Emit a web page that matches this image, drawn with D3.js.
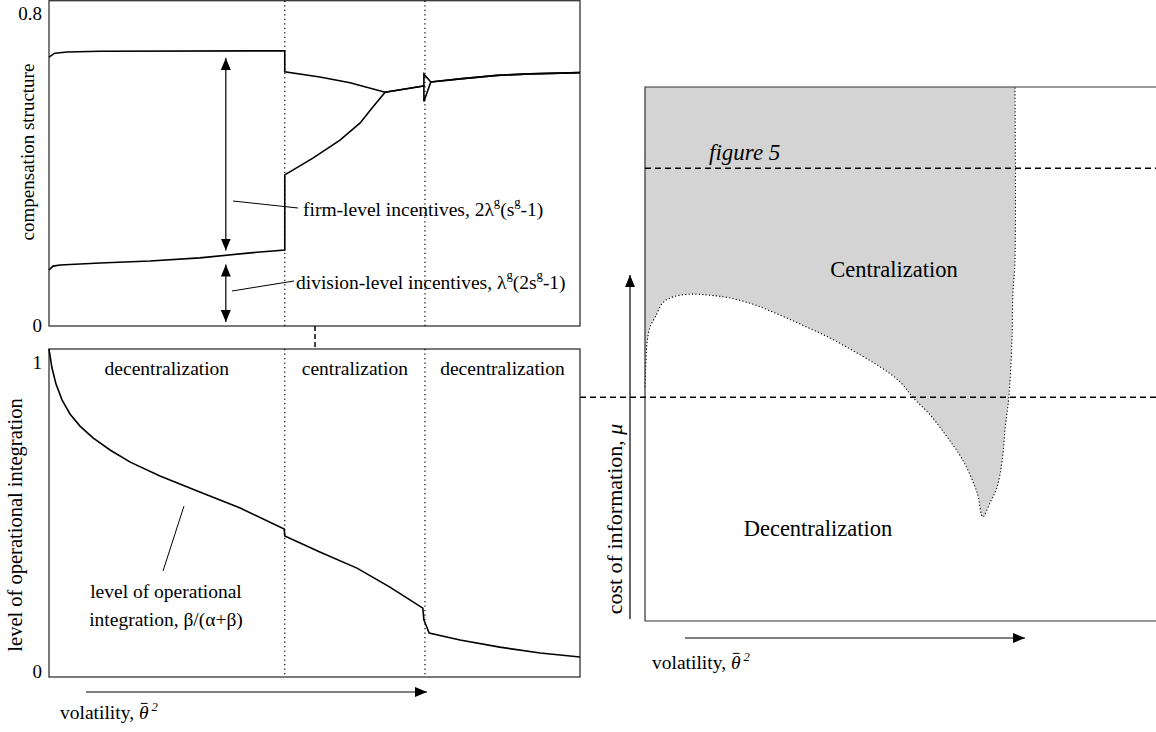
<!DOCTYPE html>
<html><head><meta charset="utf-8">
<script src="https://cdn.jsdelivr.net/npm/d3@7"></script>
<style>
body{margin:0;background:#fff;}
svg{display:block;}
svg text{font-family:'Liberation Serif','Times New Roman',Times,serif;}
</style></head><body>
<svg id="c" width="1156" height="732"></svg>
<script>
// ---------- data ----------
const regimeBreaks = [44.4, 70.8];
const regimeLabels = ["decentralization", "centralization", "decentralization"];
const compTicks = [0, 0.8];
const integTicks = [0, 1];

// upper curve of compensation panel (total incentives)
const totalV = [0, 1.1, 3.4, 9.6, 44.4, 44.4, 51.0, 56.7, 63.3, 70.6, 70.6, 71.9, 77.4, 84.4, 90.6, 100];
const totalY = [0.687, 0.697, 0.700, 0.702, 0.703, 0.649, 0.636, 0.621, 0.597, 0.613, 0.643, 0.623, 0.631, 0.640, 0.644, 0.647];
// lower curve (division-level incentives)
const divV = [0, 0.75, 2.1, 9.6, 19.0, 28.4, 37.9, 44.4, 44.4, 49.7, 54.8, 58.6, 60.8, 63.3, 70.6, 70.6, 71.9, 77.4, 84.4, 90.6, 100];
const divY = [0.141, 0.151, 0.154, 0.159, 0.164, 0.172, 0.185, 0.192, 0.385, 0.428, 0.474, 0.518, 0.556, 0.597, 0.613, 0.573, 0.623, 0.631, 0.640, 0.644, 0.647];

// level of operational integration
const integV = [0, 0.56, 1.32, 2.45, 3.95, 5.84, 8.29, 11.5, 15.3, 20.9, 28.4, 36.0, 44.3, 44.4, 51.0, 58.0, 64.2, 70.4, 70.6, 71.6, 77.4, 84.9, 92.5, 100];
const integY = [1.0, 0.942, 0.893, 0.845, 0.802, 0.765, 0.729, 0.692, 0.655, 0.613, 0.564, 0.515, 0.451, 0.430, 0.381, 0.332, 0.274, 0.210, 0.174, 0.134, 0.113, 0.091, 0.073, 0.061];

// right panel: boundary between regimes (volatility, cost of information)
const boundV = [0, 0.2, 0.4, 1.0, 2.0, 3.5, 5.5, 8.8, 12.7, 16.6, 21.5, 26.4, 31.3, 36.2, 41.1, 46.0, 49.9, 52.4, 55.8, 59.1, 62.2, 65.0, 66.1, 67.5, 68.9, 69.9, 70.5, 71.2, 71.8, 72.0, 72.4, 72.4];
const boundMu = [43.8, 48.9, 52.1, 55.1, 56.9, 59.6, 60.7, 61.2, 61.0, 60.5, 59.2, 57.3, 55.2, 53.0, 50.4, 47.6, 44.8, 41.9, 38.6, 34.5, 30.1, 24.0, 19.5, 22.1, 25.1, 30.1, 36.3, 41.9, 52.1, 61.4, 67.6, 100];
const muLevels = [84.8, 41.9];   // dashed reference levels ("figure 5" and lower one)

// annotation anchor (volatility at which incentive arrows drawn)
const arrowV = 33.3;

// ---------- scales ----------
const svg = d3.select("#c");
const x = d3.scaleLinear().domain([0, 100]).range([49, 580]);
const yTop = d3.scaleLinear().domain([0, 0.8]).range([325, 13]);
const yBot = d3.scaleLinear().domain([0, 1]).range([677, 349]);
const xr = d3.scaleLinear().domain([0, 100]).range([645, 1156]);
const yr = d3.scaleLinear().domain([0, 100]).range([621, 87]);

const defs = svg.append("defs");
defs.append("marker").attr("id", "ah").attr("viewBox", "0 0 12 10")
  .attr("refX", 12).attr("refY", 5).attr("markerWidth", 12).attr("markerHeight", 10)
  .attr("markerUnits", "userSpaceOnUse").attr("orient", "auto-start-reverse")
  .append("path").attr("d", "M0,0 L12,5 L0,10 Z").attr("fill", "#000");

const zip = (a, b) => a.map((v, i) => [v, b[i]]);

// ---------- right panel ----------
const R = svg.append("g");
const bpts = zip(boundV, boundMu);
const areaPts = [[0, 100]].concat(bpts);
R.append("path")
  .attr("d", d3.line().x(d => xr(d[0])).y(d => yr(d[1])).curve(d3.curveCatmullRom.alpha(0.5))(areaPts) + "Z")
  .attr("fill", "#d4d4d4").attr("stroke", "none");
R.append("path")
  .attr("d", d3.line().x(d => xr(d[0])).y(d => yr(d[1])).curve(d3.curveCatmullRom.alpha(0.5))(bpts))
  .attr("fill", "none").attr("stroke", "#000").attr("stroke-width", 1.1).attr("stroke-dasharray", "1.2,2.2");
R.append("path").attr("d", `M${xr(100)},${yr(100)} H${xr(0)} V${yr(0)} H${xr(100)}`)
  .attr("fill", "none").attr("stroke", "#333").attr("stroke-width", 1.2);
R.append("line").attr("x1", xr(0)).attr("x2", xr(100)).attr("y1", yr(muLevels[0])).attr("y2", yr(muLevels[0]))
  .attr("stroke", "#000").attr("stroke-width", 1.5).attr("stroke-dasharray", "6,4");
R.append("line").attr("x1", x(100)).attr("x2", xr(100)).attr("y1", yr(muLevels[1])).attr("y2", yr(muLevels[1]))
  .attr("stroke", "#000").attr("stroke-width", 1.5).attr("stroke-dasharray", "6,4");
R.append("text").attr("x", 709).attr("y", yr(muLevels[0]) - 16).attr("dominant-baseline", "central")
  .attr("font-style", "italic").attr("font-size", 23).text("figure 5");
R.append("text").attr("x", 894).attr("y", 269).attr("text-anchor", "middle").attr("dominant-baseline", "central")
  .attr("font-size", 22.5).text("Centralization");
R.append("text").attr("x", 818).attr("y", 528).attr("text-anchor", "middle").attr("dominant-baseline", "central")
  .attr("font-size", 22.5).text("Decentralization");
R.append("line").attr("x1", 630).attr("x2", 630).attr("y1", 619).attr("y2", 275)
  .attr("stroke", "#000").attr("stroke-width", 1.2).attr("marker-end", "url(#ah)");
R.append("line").attr("x1", 685).attr("x2", 1025).attr("y1", 638).attr("y2", 638)
  .attr("stroke", "#000").attr("stroke-width", 1.2).attr("marker-end", "url(#ah)");
const ylabR = R.append("text").attr("transform", "translate(614,519) rotate(-90)")
  .attr("text-anchor", "middle").attr("dominant-baseline", "central").attr("font-size", 22);
ylabR.append("tspan").text("cost of information, ");
ylabR.append("tspan").attr("font-style", "italic").text("μ");

function volLabel(g, px, py, fs) {
  const pre = "volatility, ";
  const t = g.append("text").attr("x", px).attr("y", py).attr("font-size", fs);
  t.append("tspan").text(pre);
  t.append("tspan").attr("font-style", "italic").text("θ");
  t.append("tspan").attr("font-style", "italic").attr("font-size", fs * 0.65).attr("dx", 3).attr("dy", -8).text("2");
  const e = t.node().getExtentOfChar(pre.length);
  const base = py;
  g.append("line").attr("x1", e.x + e.width * 0.2).attr("x2", e.x + e.width * 0.8 + 1)
    .attr("y1", base - fs * 0.8).attr("y2", base - fs * 0.8)
    .attr("stroke", "#000").attr("stroke-width", 1);
}
volLabel(R, 652, 669, 19.5);

// ---------- left panels ----------
const T = svg.append("g");
T.append("rect").attr("x", x(0)).attr("y", 0.7).attr("width", x(100) - x(0)).attr("height", 325.3)
  .attr("fill", "none").attr("stroke", "#333").attr("stroke-width", 1.3);
const B = svg.append("g");
B.append("rect").attr("x", x(0)).attr("y", yBot(1)).attr("width", x(100) - x(0)).attr("height", yBot(0) - yBot(1))
  .attr("fill", "none").attr("stroke", "#333").attr("stroke-width", 1.3);

regimeBreaks.forEach(b => {
  [[0.8, 326], [yBot(1), yBot(0)]].forEach(([a, c]) => {
    svg.append("line").attr("x1", x(b)).attr("x2", x(b)).attr("y1", a).attr("y2", c)
      .attr("stroke", "#000").attr("stroke-width", 1.2).attr("stroke-dasharray", "1.3,3.2");
  });
});
svg.append("line").attr("x1", 315).attr("x2", 315).attr("y1", 326).attr("y2", yBot(1))
  .attr("stroke", "#000").attr("stroke-width", 1.5).attr("stroke-dasharray", "5,3");

const lineT = d3.line().x(d => x(d[0])).y(d => yTop(d[1]));
T.append("path").attr("d", lineT(zip(totalV, totalY))).attr("fill", "none").attr("stroke", "#000").attr("stroke-width", 1.6);
T.append("path").attr("d", lineT(zip(divV, divY))).attr("fill", "none").attr("stroke", "#000").attr("stroke-width", 1.6);

const axT = T.append("g").attr("transform", `translate(${x(0)},0)`)
  .call(d3.axisLeft(yTop).tickValues(compTicks).tickSize(0).tickPadding(7).tickFormat(d3.format("")));
axT.select(".domain").remove();
axT.attr("font-family", null);
axT.selectAll("text").attr("font-size", 19).attr("fill", "#000");

const axB = B.append("g").attr("transform", `translate(${x(0)},0)`)
  .call(d3.axisLeft(yBot).tickValues(integTicks).tickSize(0).tickPadding(7).tickFormat(d3.format("")));
axB.select(".domain").remove();
axB.attr("font-family", null);
axB.selectAll("text").attr("font-size", 19).attr("fill", "#000")
  .attr("dy", d => d === 1 ? "1.05em" : "0.05em");

T.append("text").attr("transform", "translate(27,152) rotate(-90)").attr("text-anchor", "middle")
  .attr("dominant-baseline", "central").attr("font-size", 19).text("compensation structure");
B.append("text").attr("transform", "translate(15,525) rotate(-90)").attr("text-anchor", "middle")
  .attr("dominant-baseline", "central").attr("font-size", 20.5).text("level of operational integration");

// incentive arrows
const upAt = 0.70, divAt = 0.178;
T.append("line").attr("x1", x(arrowV)).attr("x2", x(arrowV)).attr("y1", yTop(divAt) - 5).attr("y2", yTop(upAt) + 6)
  .attr("stroke", "#000").attr("stroke-width", 1.2).attr("marker-start", "url(#ah)").attr("marker-end", "url(#ah)");
T.append("line").attr("x1", x(arrowV)).attr("x2", x(arrowV)).attr("y1", yTop(0) - 3).attr("y2", yTop(divAt) + 9)
  .attr("stroke", "#000").attr("stroke-width", 1.2).attr("marker-start", "url(#ah)").attr("marker-end", "url(#ah)");
T.append("line").attr("x1", 233).attr("y1", 201).attr("x2", 298).attr("y2", 208).attr("stroke", "#000").attr("stroke-width", 1);
T.append("line").attr("x1", 232).attr("y1", 291).attr("x2", 294).attr("y2", 281).attr("stroke", "#000").attr("stroke-width", 1);

function supLabel(g, px, py, parts) {
  const t = g.append("text").attr("x", px).attr("y", py).attr("dominant-baseline", "central").attr("font-size", 19.5);
  parts.forEach(p => {
    const s = t.append("tspan").text(p[0]);
    if (p[1]) s.attr("baseline-shift", "super").attr("font-size", "65%");
  });
}
supLabel(T, 303, 209, [["firm-level incentives, 2λ"], ["g", 1], ["(s"], ["g", 1], ["-1)"]]);
supLabel(T, 296, 282, [["division-level incentives, λ"], ["g", 1], ["(2s"], ["g", 1], ["-1)"]]);

const lineB = d3.line().x(d => x(d[0])).y(d => yBot(d[1]));
B.append("path").attr("d", lineB(zip(integV, integY))).attr("fill", "none").attr("stroke", "#000").attr("stroke-width", 1.6);

const mids = [0, ...regimeBreaks, 100];
regimeLabels.forEach((lab, i) => {
  B.append("text").attr("x", x((mids[i] + mids[i + 1]) / 2)).attr("y", 368)
    .attr("text-anchor", "middle").attr("dominant-baseline", "central").attr("font-size", 19.5).text(lab);
});
B.append("line").attr("x1", 184).attr("y1", 506).attr("x2", 163).attr("y2", 571).attr("stroke", "#000").attr("stroke-width", 1);
B.append("text").attr("x", 166).attr("y", 591).attr("text-anchor", "middle").attr("dominant-baseline", "central")
  .attr("font-size", 19.5).text("level of operational");
B.append("text").attr("x", 166).attr("y", 619).attr("text-anchor", "middle").attr("dominant-baseline", "central")
  .attr("font-size", 19.5).text("integration, β/(α+β)");

B.append("line").attr("x1", 86).attr("x2", 427).attr("y1", 692).attr("y2", 692)
  .attr("stroke", "#000").attr("stroke-width", 1.2).attr("marker-end", "url(#ah)");
volLabel(B, 60, 719, 19.5);
</script>
</body></html>
